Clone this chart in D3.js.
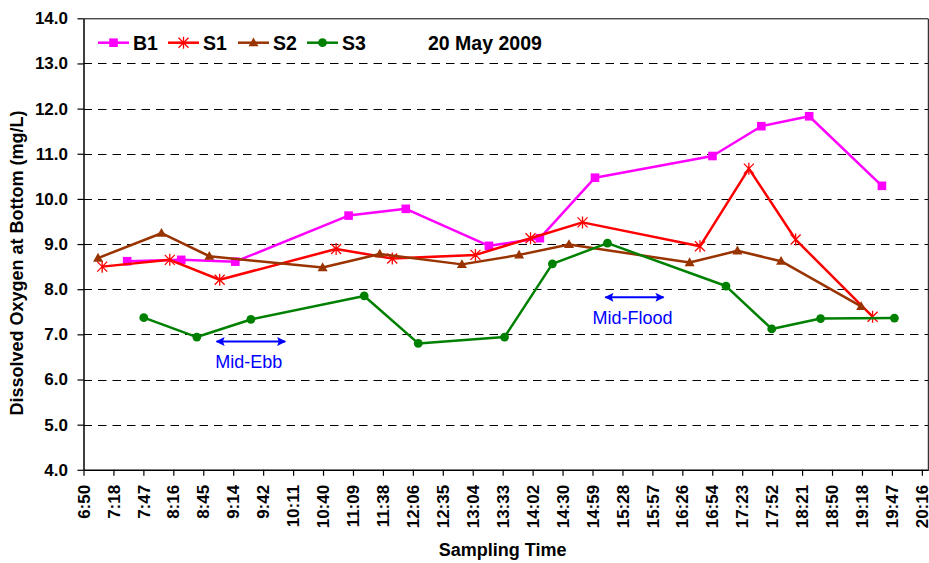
<!DOCTYPE html>
<html>
<head>
<meta charset="utf-8">
<script src="https://cdn.jsdelivr.net/npm/d3@7"></script>
<style>
  body { margin: 0; background: #fff; }
  text { font-family: Arial, "Liberation Sans", sans-serif; }
</style>
</head>
<body>
<svg id="chart" width="929" height="563"></svg>
<script>
// sampling times (h:mm) and dissolved oxygen values (mg/L) per station
var b1Times = ["7:32", "8:24", "9:16", "11:05", "12:00", "13:20", "14:09", "15:02", "16:55", "17:42", "18:28", "19:38"];
var b1Values = [8.62, 8.65, 8.61, 9.63, 9.78, 8.96, 9.13, 10.47, 10.95, 11.61, 11.83, 10.29];

var s1Times = ["7:08", "8:13", "9:01", "10:53", "11:47", "13:07", "14:00", "14:50", "16:43", "17:30", "18:15", "19:29"];
var s1Values = [8.50, 8.65, 8.21, 8.89, 8.68, 8.76, 9.13, 9.48, 8.95, 10.67, 9.10, 7.39];

var s2Times = ["7:04", "8:05", "8:51", "10:40", "11:35", "12:54", "13:49", "14:37", "16:33", "17:19", "18:01", "19:18"];
var s2Values = [8.69, 9.24, 8.73, 8.48, 8.78, 8.55, 8.76, 8.99, 8.59, 8.85, 8.62, 7.62];

var s3Times = ["7:48", "8:39", "9:31", "11:20", "12:12", "13:35", "14:21", "15:14", "17:08", "17:52", "18:39", "19:50"];
var s3Values = [7.37, 6.94, 7.33, 7.85, 6.80, 6.94, 8.56, 9.02, 8.07, 7.12, 7.35, 7.36];

var seriesNames = ["B1", "S1", "S2", "S3"];

var xTickLabels = ["6:50", "7:18", "7:47", "8:16", "8:45", "9:14", "9:42", "10:11", "10:40", "11:09",
    "11:38", "12:06", "12:35", "13:04", "13:33", "14:02", "14:30", "14:59", "15:28", "15:57",
    "16:26", "16:54", "17:23", "17:52", "18:21", "18:50", "19:18", "19:47", "20:16"];
var yTickValues = [4, 5, 6, 7, 8, 9, 10, 11, 12, 13, 14];

// tide annotations: label, arrow start / end time, DO level of the arrow
var tideLabels = ["Mid-Ebb", "Mid-Flood"];
var tideStarts = ["8:58", "15:12"];
var tideEnds = ["10:04", "16:08"];
var tideLevels = [6.84, 7.82];

var dateLabel = "20 May 2009";

function toMinutes(s) {
    var p = s.split(":");
    return +p[0] * 60 + +p[1];
}

var svg = d3.select("#chart");
var margin = {left: 83.5, right: 928.3, top: 18.3, bottom: 469.8};

// Excel axis: min 6:50, major unit 0.02 day (28.8 min)
var xMin = toMinutes("6:50"), xStep = 28.8;
var xScale = d3.scaleLinear().domain([xMin, 1222.6]).range([margin.left, margin.right]);
var yScale = d3.scaleLinear().domain([4, 14]).range([margin.bottom, margin.top]);

svg.append("rect").attr("width", 929).attr("height", 563).attr("fill", "#fff");

// gridlines
svg.append("g").selectAll("line")
    .data(yTickValues.filter(function (d) { return d > 4 && d < 14; }))
    .enter().append("line")
    .attr("x1", margin.left).attr("x2", margin.right)
    .attr("y1", function (d) { return Math.round(yScale(d)) + 0.5; })
    .attr("y2", function (d) { return Math.round(yScale(d)) + 0.5; })
    .attr("stroke", "#000").attr("stroke-width", 1)
    .attr("stroke-dasharray", "8.5,6");

// plot frame (top and right)
svg.append("path")
    .attr("d", "M" + margin.left + "," + (margin.top + 0.5) + "H" + margin.right + "V" + margin.bottom)
    .attr("fill", "none").attr("stroke", "#000").attr("stroke-width", 1);

// axes
var xAxis = d3.axisBottom(xScale)
    .tickValues(xTickLabels.map(function (d, i) { return xMin + i * xStep; }))
    .tickFormat(function (d, i) { return xTickLabels[i]; })
    .tickSize(6).tickSizeOuter(0);

var gx = svg.append("g")
    .attr("transform", "translate(0," + margin.bottom + ")")
    .call(xAxis);
gx.select(".domain").attr("stroke-width", 1.5);
gx.selectAll(".tick line").attr("stroke-width", 1.2);
gx.selectAll("text")
    .attr("font-size", "17px").attr("font-weight", "bold").attr("fill", "#000")
    .attr("transform", "rotate(-90)")
    .attr("text-anchor", "end")
    .attr("x", -15).attr("y", 0).attr("dy", "0.33em");

var yAxis = d3.axisLeft(yScale)
    .tickValues(yTickValues)
    .tickFormat(d3.format(".1f"))
    .tickSize(6).tickSizeOuter(0).tickPadding(9.5);

var gy = svg.append("g")
    .attr("transform", "translate(" + margin.left + ",0)")
    .call(yAxis);
gy.select(".domain").attr("stroke-width", 1.5);
gy.selectAll(".tick line").attr("stroke-width", 1.2);
gy.selectAll("text")
    .attr("font-size", "17px").attr("font-weight", "bold").attr("fill", "#000");

// axis titles
svg.append("text")
    .attr("x", (margin.left + 921.7) / 2).attr("y", 556)
    .attr("text-anchor", "middle")
    .attr("font-size", "18px").attr("font-weight", "bold")
    .text("Sampling Time");

svg.append("text")
    .attr("transform", "translate(23,263) rotate(-90)")
    .attr("text-anchor", "middle")
    .attr("font-size", "18px").attr("font-weight", "bold")
    .text("Dissolved Oxygen at Bottom (mg/L)");

// series
var series = [
    {name: seriesNames[0], times: b1Times, values: b1Values, color: "#ff00ff", marker: "square"},
    {name: seriesNames[1], times: s1Times, values: s1Values, color: "#ff0000", marker: "star"},
    {name: seriesNames[2], times: s2Times, values: s2Values, color: "#993300", marker: "triangle"},
    {name: seriesNames[3], times: s3Times, values: s3Values, color: "#008000", marker: "circle"}
];

function drawMarker(g, type, color) {
    if (type === "square") {
        g.append("rect").attr("x", -4.3).attr("y", -4.3).attr("width", 8.6).attr("height", 8.6)
            .attr("fill", color);
    } else if (type === "circle") {
        g.append("circle").attr("r", 4.4).attr("fill", color);
    } else if (type === "triangle") {
        g.append("path").attr("d", "M0,-5.2L5,3.6L-5,3.6Z").attr("fill", color);
    } else if (type === "star") {
        g.append("path").attr("d", "M-5,-5L5,5M-5,5L5,-5M0,-6V6")
            .attr("stroke", color).attr("stroke-width", 1.3).attr("fill", "none");
    }
}

var line = d3.line()
    .x(function (d) { return xScale(d.t); })
    .y(function (d) { return yScale(d.v); });

series.forEach(function (s) {
    var pts = s.times.map(function (t, i) { return {t: toMinutes(t), v: s.values[i]}; });
    svg.append("path")
        .datum(pts)
        .attr("d", line)
        .attr("fill", "none")
        .attr("stroke", s.color)
        .attr("stroke-width", 2.5)
        .attr("stroke-linejoin", "round");
    svg.append("g").selectAll("g")
        .data(pts)
        .enter().append("g")
        .attr("transform", function (d) { return "translate(" + xScale(d.t) + "," + yScale(d.v) + ")"; })
        .each(function () { drawMarker(d3.select(this), s.marker, s.color); });
});

// tide arrows
var defs = svg.append("defs");
defs.append("marker")
    .attr("id", "arrowHead")
    .attr("viewBox", "0 0 10 10")
    .attr("refX", 9).attr("refY", 5)
    .attr("markerWidth", 11).attr("markerHeight", 9)
    .attr("markerUnits", "userSpaceOnUse")
    .attr("orient", "auto-start-reverse")
    .append("path").attr("d", "M0,0L10,5L0,10L2,5Z").attr("fill", "#0000ff");

tideLabels.forEach(function (label, i) {
    var x1 = xScale(toMinutes(tideStarts[i])), x2 = xScale(toMinutes(tideEnds[i])), yy = yScale(tideLevels[i]);
    svg.append("line")
        .attr("x1", x1).attr("x2", x2).attr("y1", yy).attr("y2", yy)
        .attr("stroke", "#0000ff").attr("stroke-width", 2)
        .attr("marker-start", "url(#arrowHead)")
        .attr("marker-end", "url(#arrowHead)");
    svg.append("text")
        .attr("x", (x1 + x2) / 2 - 2).attr("y", yy + 26.5)
        .attr("text-anchor", "middle")
        .attr("font-size", "18px")
        .attr("fill", "#0000ff")
        .text(label);
});

// legend
var legendX = [98, 168, 238, 307];
var legendY = 42.7;
series.forEach(function (s, i) {
    var g = svg.append("g").attr("transform", "translate(" + legendX[i] + "," + legendY + ")");
    g.append("line").attr("x1", 0).attr("x2", 31).attr("y1", 0).attr("y2", 0)
        .attr("stroke", s.color).attr("stroke-width", 2.5);
    drawMarker(g.append("g").attr("transform", "translate(15.5,0)"), s.marker, s.color);
    g.append("text")
        .attr("x", 35).attr("y", 7)
        .attr("font-size", "19.5px").attr("font-weight", "bold")
        .text(s.name);
});

svg.append("text")
    .attr("x", 428).attr("y", 49.5)
    .attr("font-size", "19.5px").attr("font-weight", "bold")
    .text(dateLabel);
</script>
</body>
</html>
